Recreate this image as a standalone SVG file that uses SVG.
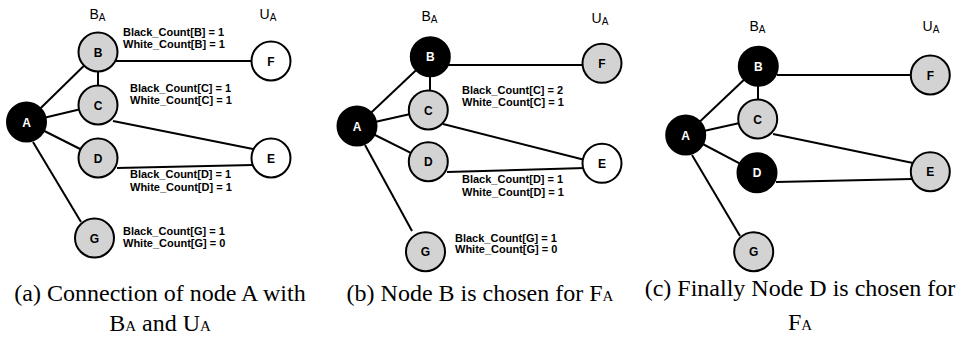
<svg xmlns="http://www.w3.org/2000/svg" width="961" height="337" viewBox="0 0 961 337">
<style>
.e{stroke:#000;stroke-width:2;fill:none}
.n{stroke:#000;stroke-width:2}
.g{fill:#d3d3d3}
.w{fill:#fff}
.k{fill:#000}
.nl{font-family:"Liberation Sans",Arial,sans-serif;font-weight:bold;font-size:12px;text-anchor:middle}
.wl{fill:#fff}
.lb{font-family:"Liberation Sans",Arial,sans-serif;font-size:14px}
.lb tspan{font-size:10px}
.ct{font-family:"Liberation Sans",Arial,sans-serif;font-weight:bold;font-size:11px}
.cap{font-family:"Liberation Serif","Times New Roman",serif;font-size:24px;text-anchor:middle}
.cap tspan.s{font-size:15px}
</style>
<rect width="961" height="337" fill="#fff"/>

<!-- Panel (a) -->
<g id="a-edges">
<line class="e" x1="26.5" y1="122" x2="98" y2="52"/>
<line class="e" x1="26.5" y1="122" x2="98" y2="105"/>
<line class="e" x1="26.5" y1="122" x2="98" y2="158"/>
<line class="e" x1="33" y1="142" x2="81" y2="222"/>
<line class="e" x1="98" y1="52" x2="98" y2="105"/>
<line class="e" x1="116" y1="61" x2="252" y2="61"/>
<line class="e" x1="113" y1="121" x2="253" y2="149"/>
<line class="e" x1="117" y1="168" x2="253" y2="165"/>
</g>
<g id="a-A"><circle class="n k" cx="26.5" cy="122" r="19.5"/><text class="nl wl" x="26.5" y="126.5">A</text></g>
<g id="a-B"><circle class="n g" cx="98" cy="52" r="19.5"/><text class="nl" x="98" y="56.5">B</text></g>
<g id="a-C"><circle class="n g" cx="98" cy="105" r="19.5"/><text class="nl" x="98" y="109.5">C</text></g>
<g id="a-D"><circle class="n g" cx="98" cy="158" r="19.5"/><text class="nl" x="98" y="162.5">D</text></g>
<g id="a-G"><circle class="n g" cx="94.5" cy="238" r="19.5"/><text class="nl" x="94.5" y="242.5">G</text></g>
<g id="a-F"><circle class="n w" cx="271" cy="61" r="19.5"/><text class="nl" x="271" y="65.5">F</text></g>
<g id="a-E"><circle class="n w" cx="271" cy="158" r="19.5"/><text class="nl" x="271" y="162.5">E</text></g>
<g id="a-labels">
<text class="lb" x="89.5" y="19">B<tspan dy="2">A</tspan></text>
<text class="lb" x="259.5" y="19">U<tspan dy="2">A</tspan></text>
<text class="ct" x="123" y="36">Black_Count[B] = 1</text>
<text class="ct" x="123" y="48">White_Count[B] = 1</text>
<text class="ct" x="130" y="92">Black_Count[C] = 1</text>
<text class="ct" x="130" y="104">White_Count[C] = 1</text>
<text class="ct" x="130" y="178">Black_Count[D] = 1</text>
<text class="ct" x="130" y="191">White_Count[D] = 1</text>
<text class="ct" x="123" y="235">Black_Count[G] = 1</text>
<text class="ct" x="123" y="247">White_Count[G] = 0</text>
</g>

<!-- Panel (b) -->
<g id="b-edges">
<line class="e" x1="357" y1="126" x2="430.3" y2="56.7"/>
<line class="e" x1="357" y1="126" x2="428.3" y2="110"/>
<line class="e" x1="357" y1="126" x2="428.3" y2="161.7"/>
<line class="e" x1="365" y1="145" x2="412" y2="231"/>
<line class="e" x1="430" y1="56.7" x2="430" y2="110"/>
<line class="e" x1="448" y1="65" x2="584" y2="65"/>
<line class="e" x1="443" y1="124" x2="585" y2="160"/>
<line class="e" x1="447" y1="172" x2="585" y2="168"/>
</g>
<g id="b-A"><circle class="n k" cx="357" cy="126" r="19.5"/><text class="nl wl" x="357" y="130.5">A</text></g>
<g id="b-B"><circle class="n k" cx="430.3" cy="56.7" r="19.5"/><text class="nl wl" x="430.3" y="61.2">B</text></g>
<g id="b-C"><circle class="n g" cx="428.3" cy="110" r="19.5"/><text class="nl" x="428.3" y="114.5">C</text></g>
<g id="b-D"><circle class="n g" cx="428.3" cy="161.7" r="19.5"/><text class="nl" x="428.3" y="166.2">D</text></g>
<g id="b-G"><circle class="n g" cx="425.5" cy="251.7" r="19.5"/><text class="nl" x="425.5" y="256.2">G</text></g>
<g id="b-F"><circle class="n g" cx="602" cy="63.3" r="19.5"/><text class="nl" x="602" y="67.8">F</text></g>
<g id="b-E"><circle class="n w" cx="602" cy="163.3" r="19.5"/><text class="nl" x="602" y="167.8">E</text></g>
<g id="b-labels">
<text class="lb" x="421.5" y="21">B<tspan dy="2">A</tspan></text>
<text class="lb" x="591.5" y="23">U<tspan dy="2">A</tspan></text>
<text class="ct" x="462" y="94">Black_Count[C] = 2</text>
<text class="ct" x="462" y="106">White_Count[C] = 1</text>
<text class="ct" x="462" y="183">Black_Count[D] = 1</text>
<text class="ct" x="462" y="196">White_Count[D] = 1</text>
<text class="ct" x="455" y="242">Black_Count[G] = 1</text>
<text class="ct" x="455" y="253">White_Count[G] = 0</text>
</g>

<!-- Panel (c) -->
<g id="c-edges">
<line class="e" x1="685.7" y1="135" x2="758.3" y2="66.3"/>
<line class="e" x1="685.7" y1="135" x2="757.7" y2="119"/>
<line class="e" x1="685.7" y1="135" x2="757" y2="172.7"/>
<line class="e" x1="692" y1="155" x2="740" y2="236"/>
<line class="e" x1="758" y1="66.3" x2="758" y2="119"/>
<line class="e" x1="777" y1="75" x2="911" y2="75"/>
<line class="e" x1="773" y1="134" x2="913" y2="163"/>
<line class="e" x1="776" y1="182" x2="912" y2="179"/>
</g>
<g id="c-A"><circle class="n k" cx="685.7" cy="135" r="19.5"/><text class="nl wl" x="685.7" y="139.5">A</text></g>
<g id="c-B"><circle class="n k" cx="758.3" cy="66.3" r="19.5"/><text class="nl wl" x="758.3" y="70.8">B</text></g>
<g id="c-C"><circle class="n g" cx="757.7" cy="119" r="19.5"/><text class="nl" x="757.7" y="123.5">C</text></g>
<g id="c-D"><circle class="n k" cx="757" cy="172.7" r="19.5"/><text class="nl wl" x="757" y="177.2">D</text></g>
<g id="c-G"><circle class="n g" cx="753.7" cy="251.7" r="19.5"/><text class="nl" x="753.7" y="256.2">G</text></g>
<g id="c-F"><circle class="n g" cx="930.3" cy="75" r="19.5"/><text class="nl" x="930.3" y="79.5">F</text></g>
<g id="c-E"><circle class="n g" cx="930.3" cy="171.7" r="19.5"/><text class="nl" x="930.3" y="176.2">E</text></g>
<g id="c-labels">
<text class="lb" x="749.5" y="31">B<tspan dy="2">A</tspan></text>
<text class="lb" x="922.5" y="31">U<tspan dy="2">A</tspan></text>
</g>

<!-- Captions -->
<g id="captions">
<text class="cap" x="160" y="301">(a) Connection of node A with</text>
<text class="cap" x="160" y="331">B<tspan class="s">A</tspan> and U<tspan class="s">A</tspan></text>
<text class="cap" x="480" y="301">(b) Node B is chosen for F<tspan class="s">A</tspan></text>
<text class="cap" x="800" y="296">(c) Finally Node D is chosen for</text>
<text class="cap" x="800" y="330">F<tspan class="s">A</tspan></text>
</g>
</svg>
